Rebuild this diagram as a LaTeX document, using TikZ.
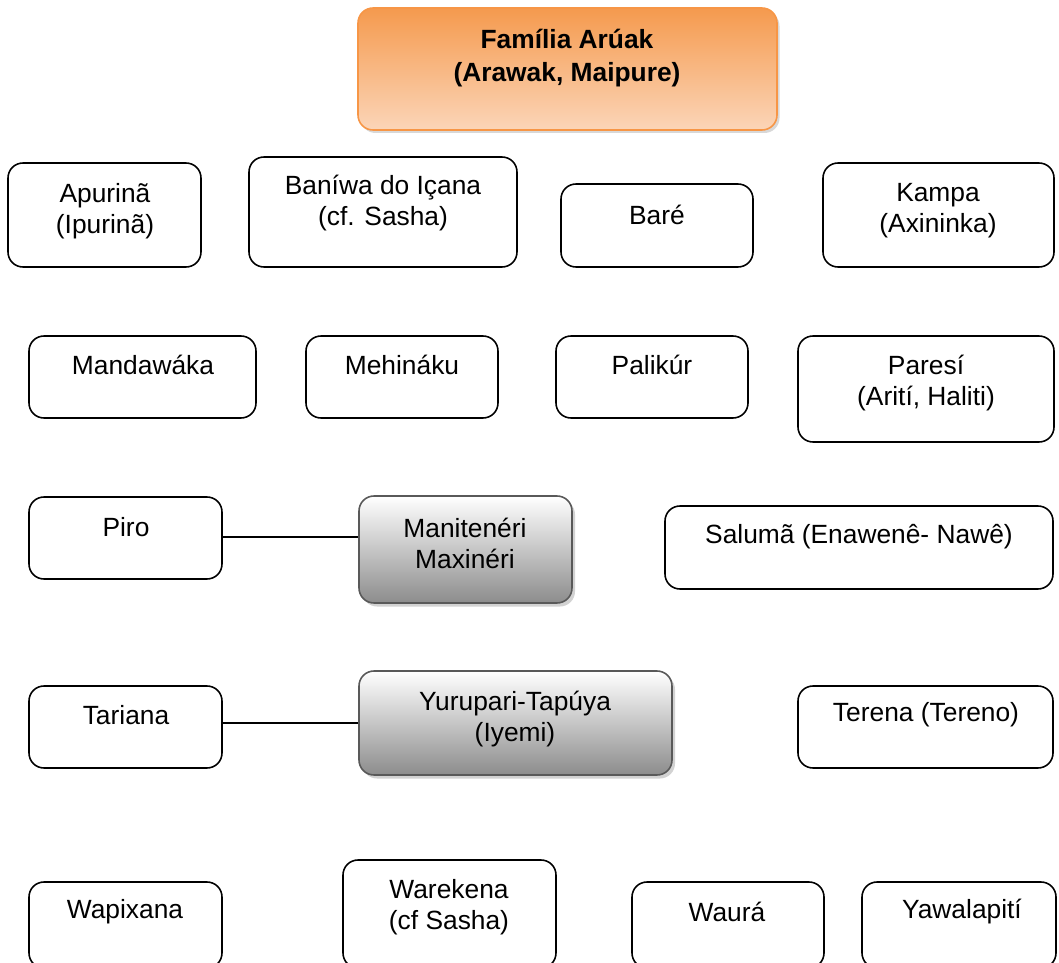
\documentclass[tikz,border=0pt]{standalone}
\usepackage{fontspec}
\setmainfont{Liberation Sans}
\usetikzlibrary{positioning,fit,shadows}

\definecolor{famtop}{HTML}{F59A4E}
\definecolor{fambot}{HTML}{FBD5B8}
\definecolor{famline}{HTML}{F79646}

\begin{document}
\begin{tikzpicture}[x=0.02cm, y=-0.02cm,
		font=\fontsize{15pt}{17.6pt}\selectfont,
		lang/.style={draw, line width=0.9pt, rounded corners=0.3cm, inner sep=0pt},
		sub/.style={lang, draw=black!65, top color=white, bottom color=black!45,
			drop shadow={shadow xshift=0.06cm, shadow yshift=-0.07cm, fill=black!35}},
		fam/.style={lang, draw=famline, top color=famtop, bottom color=fambot,
			drop shadow={shadow xshift=0.05cm, shadow yshift=-0.06cm, fill=black!30}},
		txt/.style={align=center, inner sep=0pt}]
		\useasboundingbox (0,0) rectangle (1059,963);
		\clip (0,0) rectangle (1059,963);
		
		% family
		\node[fam, fit={(358,8) (777,130)}] (F) {};
		\node[txt, font=\fontsize{15pt}{18.7pt}\selectfont\bfseries] (F-t) at (567,58) {Família Arúak\\(Arawak, Maipure)};
		
		% row 1
		\node[lang, fit={(8,163) (201,267)}] (apu) {};
		\node[txt] (apu-t) at (105,211) {Apurinã\\(Ipurinã)};
		\node[lang, fit={(249,157) (517,267)}] (ban) {};
		\node[txt] (ban-t) at (383,203) {Baníwa do Içana\\(cf. Sasha)};
		\node[lang, fit={(561,184) (753,267)}] (bar) {};
		\node[txt] (bar-t) at (657,215) {Baré};
		\node[lang, fit={(823,163) (1054,267)}] (kam) {};
		\node[txt] (kam-t) at (938,211) {Kampa\\(Axininka)};
		
		% row 2
		\node[lang, fit={(29,336) (256,418)}] (man) {};
		\node[txt] (man-t) at (143,365) {Mandawáka};
		\node[lang, fit={(306,336) (498,418)}] (meh) {};
		\node[txt] (meh-t) at (402,365) {Mehináku};
		\node[lang, fit={(556,336) (748,418)}] (pal) {};
		\node[txt] (pal-t) at (652,365) {Palikúr};
		\node[lang, fit={(798,336) (1054,442)}] (par) {};
		\node[txt] (par-t) at (926,383) {Paresí\\(Arití, Haliti)};
		
		% row 3
		\node[lang, fit={(29,497) (222,579)}] (pir) {};
		\node[txt] (pir-t) at (126,527) {Piro};
		\node[sub, fit={(359,496) (572,603)}] (mni) {};
		\node[txt] (mni-t) at (465,543) {Manitenéri\\Maxinéri};
		\node[lang, fit={(665,506) (1053,589)}] (sal) {};
		\node[txt] (sal-t) at (859,537) {Salumã (Enawenê- Nawê)};
		\draw[line width=0.9pt] (pir.east |- 0,537) -- (mni.west |- 0,537);
		
		% row 4
		\node[lang, fit={(29,686) (222,768)}] (tar) {};
		\node[txt] (tar-t) at (126,715) {Tariana};
		\node[sub, fit={(359,671) (672,775)}] (yur) {};
		\node[txt] (yur-t) at (515,719) {Yurupari-Tapúya\\(Iyemi)};
		\node[lang, fit={(798,686) (1053,768)}] (ter) {};
		\node[txt] (ter-t) at (926,715) {Terena (Tereno)};
		\draw[line width=0.9pt] (tar.east |- 0,723) -- (yur.west |- 0,723);
		
		% row 5
		\node[lang, fit={(29,882) (222,968)}] (wap) {};
		\node[txt] (wap-t) at (125,912) {Wapixana};
		\node[lang, fit={(343,860) (556,968)}] (war) {};
		\node[txt] (war-t) at (449,907) {Warekena\\(cf Sasha)};
		\node[lang, fit={(632,882) (824,968)}] (wau) {};
		\node[txt] (wau-t) at (727,912) {Waurá};
		\node[lang, fit={(862,882) (1056,968)}] (yaw) {};
		\node[txt] (yaw-t) at (962,912) {Yawalapití};
	\end{tikzpicture}
\end{document}
